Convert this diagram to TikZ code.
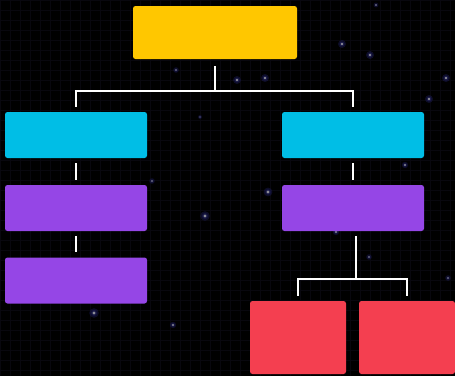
\documentclass[tikz,border=0pt]{standalone}
\usetikzlibrary{positioning}
\definecolor{cyel}{RGB}{255,199,0}
\definecolor{ccya}{RGB}{0,190,230}
\definecolor{cpur}{RGB}{149,70,230}
\definecolor{cred}{RGB}{244,63,80}
\definecolor{cgrid}{RGB}{8,7,14}
\definecolor{cglow}{RGB}{35,35,110}
\definecolor{cstar}{RGB}{140,140,150}
\begin{document}
\begin{tikzpicture}[x=1pt,y=-1pt,
  box/.style={rectangle,rounded corners=2.5pt,inner sep=0pt,draw=none,minimum width=142pt,minimum height=46pt},
  conn/.style={draw=white,line width=2pt},
]
\useasboundingbox (0,0) rectangle (455,376);
\fill[black] (0,0) rectangle (455,376);
\draw[cgrid,line width=0.4pt,step=10pt] (0,0) grid (455,376);
% stars
\foreach \x/\y/\r in {176/70/0.7,237/80/1,265/78/1,342/44/1,370/55/1,376/5/0.6,446/78/1,429/99/1,405/165/0.8,152/181/0.7,268/192/1.1,205/216/1.2,336/232/0.8,369/257/0.7,448/278/0.7,94/313/1.2,173/325/0.8,200/117/0.5}{
  \fill[cglow,opacity=0.35] (\x,\y) circle (4*\r);
  \fill[cglow,opacity=0.4] (\x,\y) circle (2.5*\r);
  \fill[cstar] (\x,\y) circle (1.4*\r);
}
% nodes
\node[box,fill=cyel,minimum width=164pt,minimum height=53pt] (top) at (215,32.5) {};
\node[box,fill=ccya] (lc) at (76,135) {};
\node[box,fill=ccya] (rc) at (353,135) {};
\node[box,fill=cpur] (lp1) at (76,208) {};
\node[box,fill=cpur] (lp2) at (76,280.5) {};
\node[box,fill=cpur] (rp) at (353,208) {};
\node[box,fill=cred,minimum width=96pt,minimum height=73pt] (r1) at (298,337.5) {};
\node[box,fill=cred,minimum width=96pt,minimum height=73pt] (r2) at (407,337.5) {};
% connectors
\coordinate (b1) at (215,91);
\coordinate (b2) at (356,279);
\draw[conn,shorten <=7pt,shorten >=5pt] (top.south) -- (b1) -| (lc.north);
\draw[conn,shorten >=5pt] (b1) -| (rc.north);
\draw[conn,shorten <=5pt,shorten >=5pt] (lc.south) -- (lp1.north);
\draw[conn,shorten <=5pt,shorten >=5pt] (lp1.south) -- (lp2.north);
\draw[conn,shorten <=5pt,shorten >=5pt] (rc.south) -- (rp.north);
\draw[conn,shorten <=5pt] (b2 |- rp.south) -- (b2);
\draw[conn,shorten >=5pt] (b2) -| (r1.north);
\draw[conn,shorten >=5pt] (b2) -| (r2.north);
\end{tikzpicture}
\end{document}
